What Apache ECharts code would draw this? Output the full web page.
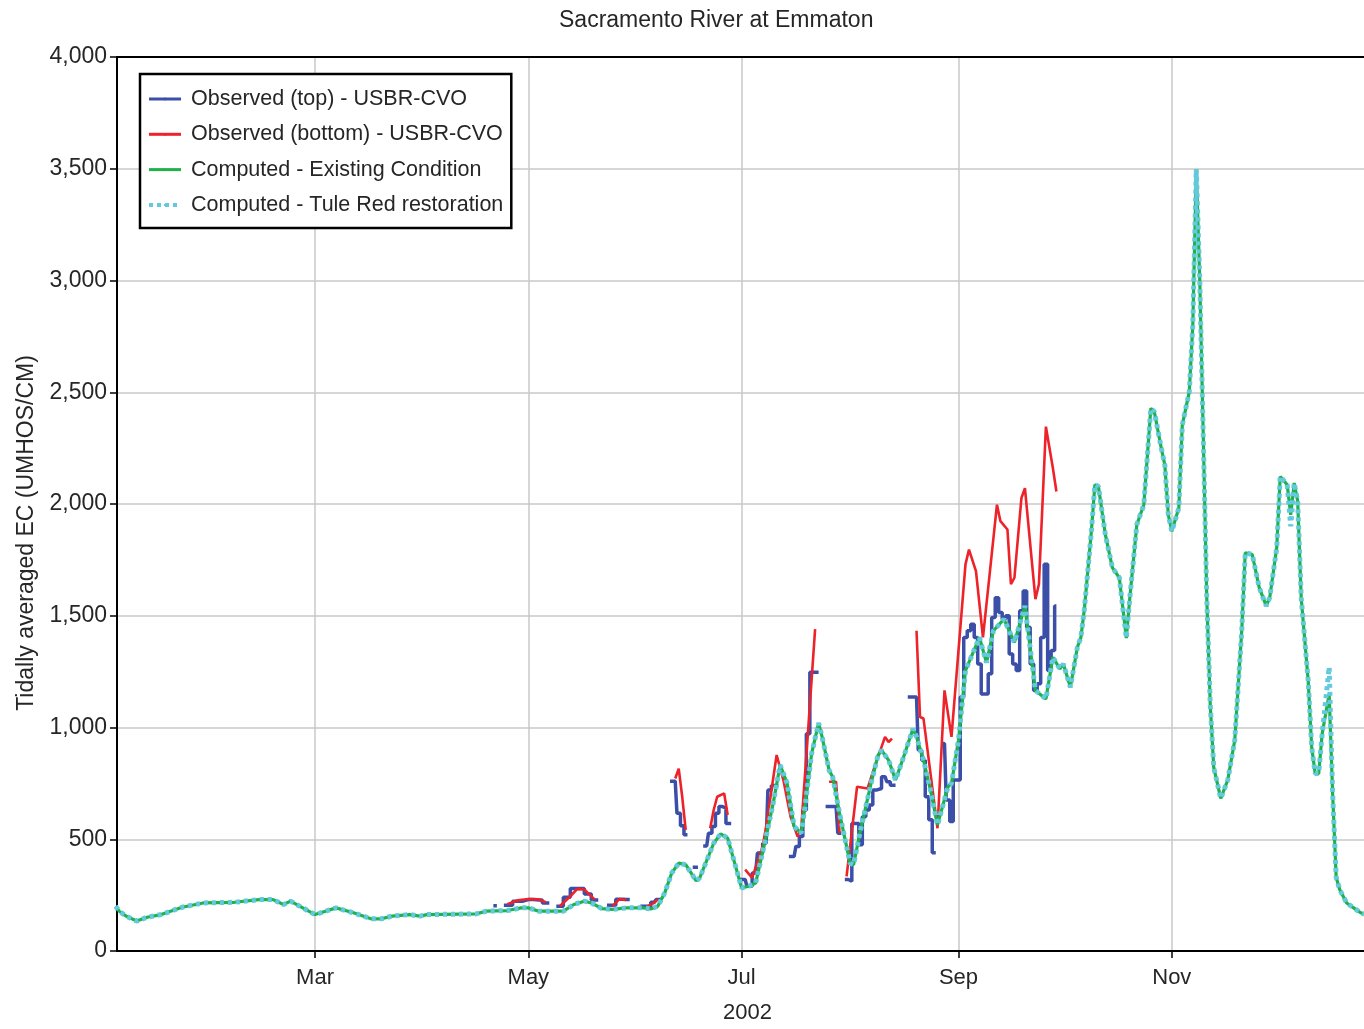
<!DOCTYPE html>
<html><head><meta charset="utf-8">
<script src="https://cdn.jsdelivr.net/npm/echarts@6/dist/echarts.min.js"></script>
<style>html,body{margin:0;padding:0;background:#fff}#c{width:1364px;height:1029px}</style>
</head><body><div id="c"></div>
<script>
const YEAR = 2002;
const chartTitle = 'Sacramento River at Emmaton';
const yAxisTitle = 'Tidally averaged EC (UMHOS/CM)';
const xAxisTitle = '2002';
const xTickDates = ['03-01', '05-01', '07-01', '09-01', '11-01'];
const xTickLabels = ['Mar', 'May', 'Jul', 'Sep', 'Nov'];
const seriesNames = ['Observed (top) - USBR-CVO', 'Observed (bottom) - USBR-CVO', 'Computed - Existing Condition', 'Computed - Tule Red restoration'];

const existingDates = ['01-03','01-04','01-06','01-09','01-12','01-16','01-22','01-28','02-06','02-13','02-17','02-20','02-22','03-01','03-04','03-07','03-12','03-17','03-20','03-23','03-28','03-31','04-02','04-16','04-19','04-25','04-29','05-01','05-04','05-11','05-14','05-17','05-19','05-22','05-25','05-29','06-03','06-05','06-07','06-09','06-11','06-13','06-15','06-18','06-19','06-23','06-25','06-27','06-29','07-01','07-03','07-05','07-08','07-10','07-12','07-14','07-16','07-18','07-19','07-21','07-23','07-24','07-26','07-27','07-29','08-01','08-02','08-04','08-07','08-09','08-10','08-12','08-14','08-16','08-19','08-20','08-22','08-24','08-26','08-29','08-30','09-01','09-03','09-07','09-09','09-11','09-14','09-17','09-20','09-23','09-26','09-28','09-30','10-01','10-03','10-05','10-06','10-07','10-09','10-10','10-11','10-13','10-15','10-17','10-19','10-20','10-22','10-24','10-26','10-27','10-29','10-30','10-31','11-01','11-03','11-04','11-06','11-07','11-08','11-09','11-10','11-11','11-12','11-13','11-15','11-17','11-19','11-21','11-22','11-24','11-26','11-28','11-29','12-01','12-02','12-04','12-05','12-06','12-07','12-08','12-10','12-11','12-12','12-13','12-14','12-16','12-17','12-18','12-19','12-21','12-23','12-25','12-26'];
const existingValues = [200,178,156,134,151,163,196,215,218,230,230,208,223,163,178,193,171,144,144,156,163,156,163,166,178,181,193,193,178,178,208,223,215,190,186,193,193,188,200,260,349,393,386,314,327,482,524,505,393,282,290,304,512,660,832,750,557,527,631,883,1020,958,809,780,616,393,386,542,750,876,898,854,765,854,995,958,854,720,564,735,750,943,1255,1403,1290,1433,1485,1381,1544,1166,1128,1314,1262,1284,1180,1359,1403,1530,1878,2086,2079,1863,1715,1670,1400,1581,1908,1997,2428,2413,2249,2175,1952,1878,1982,2354,2502,2800,3497,3000,2300,1581,1100,820,683,765,943,1433,1782,1774,1626,1544,1581,1804,2123,2086,1952,2094,2012,1581,1210,913,794,794,972,1150,700,330,275,215,193,171,165];

// Tule Red restoration run: same as existing except where the cyan trace departs
const tuleRedChangedDates = ['12-05', '12-16'];
const tuleRedChangedValues = [1900, 1270];

// null = no observation (gap)
const topDates = ['04-21','04-23','04-25','04-28','05-01','05-04','05-06','05-08','05-10','05-12','05-14','05-16','05-18','05-20','05-22','05-25','05-27','05-29','05-31','06-04','06-06','06-07','06-09','06-12','06-13','06-14','06-15','06-16','06-18','06-19','06-21','06-22','06-23','06-24','06-25','06-26','06-27','06-29','07-02','07-03','07-05','07-06','07-08','07-09','07-10','07-13','07-16','07-17','07-18','07-19','07-20','07-21','07-22','07-24','07-26','07-27','07-28','07-29','07-30','07-31','08-01','08-02','08-03','08-04','08-05','08-06','08-07','08-08','08-09','08-11','08-12','08-13','08-15','08-20','08-21','08-22','08-23','08-24','08-25','08-26','08-28','08-29','08-30','08-31','09-01','09-02','09-03','09-04','09-05','09-06','09-07','09-08','09-09','09-10','09-11','09-12','09-13','09-14','09-15','09-16','09-17','09-18','09-19','09-20','09-21','09-22','09-23','09-24','09-25','09-26','09-27','09-28','09-29'];
const topValues = [203,null,205,223,230,228,215,null,200,240,280,280,255,228,null,205,232,230,null,200,218,230,null,760,616,560,520,null,375,null,470,527,557,616,646,640,571,null,320,290,349,438,482,720,740,null,423,468,512,631,972,1247,1247,null,646,646,646,527,null,320,312,571,571,475,601,631,653,720,727,780,757,742,null,1136,898,854,690,587,440,null,928,676,579,765,765,1136,1403,1433,1462,1403,1284,1150,1150,1240,1492,1581,1514,1485,1500,1329,1284,1255,1522,1611,1448,1284,1166,1196,1403,1730,1255,1344,1544];

const bottomDates = ['04-21','04-23','04-25','04-28','05-01','05-04','05-06','05-08','05-10','05-13','05-15','05-17','05-20','05-22','05-25','05-27','05-29','05-30','06-01','06-02','06-04','06-06','06-07','06-09','06-12','06-13','06-14','06-15','06-16','06-18','06-19','06-22','06-23','06-24','06-26','06-27','06-29','07-02','07-04','07-07','07-08','07-11','07-13','07-15','07-17','07-18','07-20','07-22','07-24','07-26','07-27','07-28','07-29','07-30','07-31','08-03','08-06','08-08','08-11','08-12','08-13','08-15','08-20','08-21','08-22','08-26','08-28','08-30','09-03','09-04','09-06','09-08','09-10','09-12','09-13','09-15','09-16','09-17','09-19','09-20','09-23','09-24','09-26','09-28','09-29'];
const bottomValues = [203,null,209,227,233,231,218,null,200,245,278,275,230,null,200,232,228,null,220,null,200,215,232,null,772,816,690,542,null,396,null,549,631,690,705,609,null,364,327,468,557,877,760,600,512,542,987,1440,null,757,757,757,527,null,334,735,727,824,958,935,950,null,1433,1047,1040,549,1166,958,1730,1796,1700,1403,1700,1997,1923,1886,1641,1670,2027,2071,1574,1641,2346,2160,2056];

const FONT = 'Liberation Sans';
const TEXT = '#262626';
const C_TOP = '#3c4fa8', C_BOT = '#ee2229', C_EXI = '#1fb14a', C_TULE = '#63cadd';

function ts(md) { const p = md.split('-').map(Number); return new Date(YEAR, p[0] - 1, p[1]).getTime(); }
function pairs(dates, values) { return dates.map((d, i) => [ts(d), values[i]]); }

const tuleValues = existingValues.slice();
tuleRedChangedDates.forEach((d, i) => { const k = existingDates.indexOf(d); if (k >= 0) tuleValues[k] = tuleRedChangedValues[i]; });

const tickTs = xTickDates.map(ts);
const xMin = new Date(YEAR, 0, 3, 9).getTime();
const xMax = new Date(YEAR, 11, 25, 23).getTime();
const legendLineWidths = [3, 3, 3, 4];

const chart = echarts.init(document.getElementById('c'), null, { renderer: 'canvas' });
chart.setOption({
  animation: false,
  backgroundColor: '#ffffff',
  textStyle: { fontFamily: FONT },
  title: { text: chartTitle, left: 559, top: 9, padding: 0,
    textStyle: { fontFamily: FONT, fontSize: 23, fontWeight: 'normal', color: TEXT } },
  grid: { left: 117, right: 0, top: 57, bottom: 74, containLabel: false },
  legend: {
    orient: 'vertical', left: 140, top: 74,
    padding: [14, 8, 12, 7], itemGap: 13.3, itemWidth: 32, itemHeight: 3,
    borderColor: '#000', borderWidth: 2.5, backgroundColor: '#fff',
    textStyle: { fontFamily: FONT, fontSize: 21.5, color: TEXT, lineHeight: 22, padding: [0, 0, 0, 5] },
    data: seriesNames.map((n, i) => ({ name: n, lineStyle: { width: legendLineWidths[i] } }))
  },
  xAxis: [{
    type: 'value', min: xMin, max: xMax, position: 'bottom',
    name: xAxisTitle, nameLocation: 'middle', nameGap: 51,
    nameTextStyle: { fontFamily: FONT, fontSize: 22, color: TEXT, padding: [0, 0, 0, 14] },
    axisLine: { show: true, lineStyle: { color: '#000', width: 2 } },
    axisTick: { show: true, length: 7, inside: false, customValues: tickTs, lineStyle: { color: '#000', width: 1.5 } },
    axisLabel: { customValues: tickTs, margin: 16, fontFamily: FONT, fontSize: 22, color: TEXT,
      formatter: v => { const k = tickTs.indexOf(v); return k >= 0 ? xTickLabels[k] : ''; } },
    splitLine: { show: true, lineStyle: { color: '#c8c8c8', width: 1.5 } }
  }, {
    type: 'value', min: xMin, max: xMax, position: 'top',
    axisLine: { show: true, lineStyle: { color: '#000', width: 2 } },
    axisTick: { show: false }, axisLabel: { show: false }, splitLine: { show: false }
  }],
  yAxis: {
    type: 'value', min: 0, max: 4000, interval: 500,
    name: yAxisTitle, nameLocation: 'middle', nameGap: 78, nameRotate: 90,
    nameTextStyle: { fontFamily: FONT, fontSize: 23, color: TEXT, padding: [0, 58, 0, 0] },
    axisLine: { show: true, lineStyle: { color: '#000', width: 2 } },
    axisTick: { show: true, length: 7, lineStyle: { color: '#000', width: 1.5 } },
    axisLabel: { margin: 10, fontFamily: FONT, fontSize: 23, color: TEXT },
    splitLine: { show: true, lineStyle: { color: '#c8c8c8', width: 1.5 } }
  },
  series: [
    { name: seriesNames[0], type: 'line', step: 'middle', data: pairs(topDates, topValues),
      showSymbol: false, symbol: 'rect', symbolSize: 3, connectNulls: false,
      lineStyle: { color: C_TOP, width: 3.5 }, itemStyle: { color: C_TOP } },
    { name: seriesNames[1], type: 'line', data: pairs(bottomDates, bottomValues),
      showSymbol: false, symbol: 'rect', symbolSize: 3, connectNulls: false,
      lineStyle: { color: C_BOT, width: 2.6 }, itemStyle: { color: C_BOT } },
    { name: seriesNames[2], type: 'line', data: pairs(existingDates, existingValues),
      showSymbol: false, symbol: 'none',
      lineStyle: { color: C_EXI, width: 3.2 }, itemStyle: { color: C_EXI } },
    { name: seriesNames[3], type: 'line', data: pairs(existingDates, tuleValues),
      showSymbol: false, symbol: 'none',
      lineStyle: { color: C_TULE, width: 5, type: [4, 4], cap: 'butt' }, itemStyle: { color: C_TULE } }
  ]
});
</script></body></html>
